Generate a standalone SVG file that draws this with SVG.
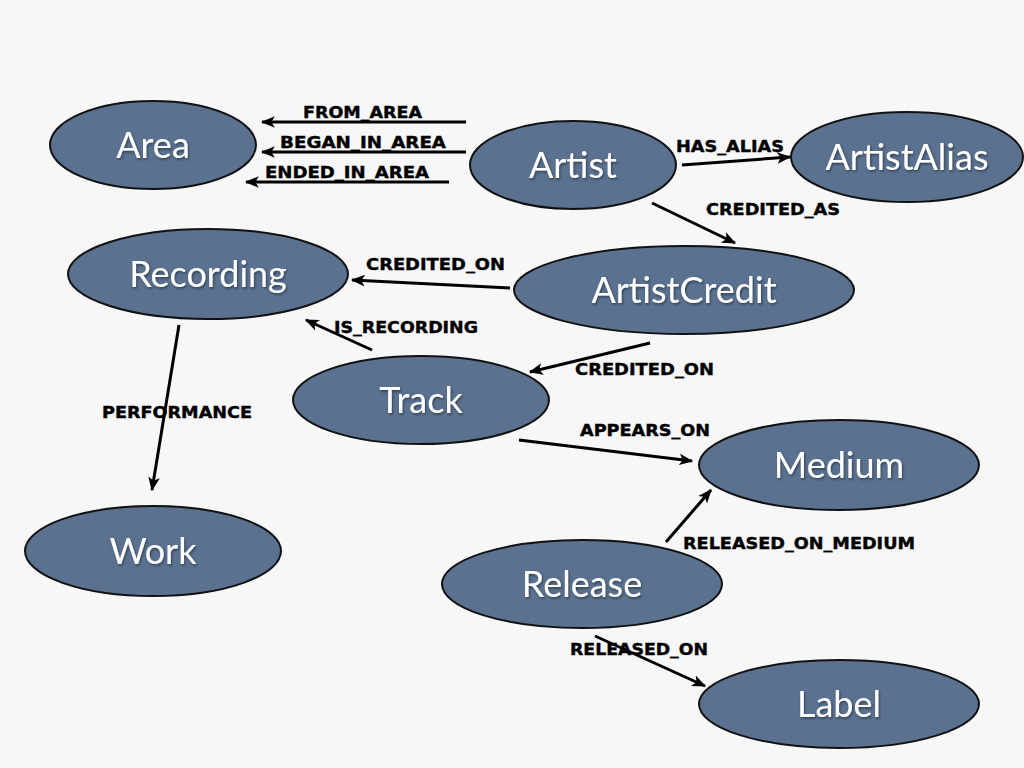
<svg xmlns="http://www.w3.org/2000/svg" width="1024" height="768" viewBox="0 0 1024 768">
<style>
.node ellipse{fill:#5a7190;stroke:#111;stroke-width:2}
.node text{font-family:Lato,"Open Sans",sans-serif;font-size:36px;fill:#fff;text-anchor:middle;filter:url(#sh)}
.edges line{stroke:#000;stroke-width:3;marker-end:url(#ah)}
.lbl{font-family:"DejaVu Sans","Liberation Sans",sans-serif;font-weight:bold;font-size:16px;fill:#000;stroke:#000;stroke-width:0.4}
</style>
<defs>
<marker id="ah" viewBox="0 0 12 10" refX="11" refY="5" markerWidth="14" markerHeight="12" markerUnits="userSpaceOnUse" orient="auto">
<path d="M0,0 L12,5 L0,10 L3,5 z" fill="#000"/>
</marker>
<filter id="sh" x="-10%" y="-10%" width="120%" height="130%">
<feDropShadow dx="1" dy="1.5" stdDeviation="1" flood-color="#1a2535" flood-opacity="0.7"/>
</filter>
</defs>
<rect width="1024" height="768" fill="#f7f7f7"/>
<g class="edges">
<line x1="466" y1="122" x2="262" y2="122"/>
<line x1="466" y1="152" x2="262" y2="152"/>
<line x1="449" y1="182" x2="246" y2="182"/>
<line x1="682" y1="165" x2="790" y2="157"/>
<line x1="652" y1="203" x2="735" y2="243"/>
<line x1="510" y1="288" x2="352" y2="280"/>
<line x1="372" y1="350" x2="306" y2="320"/>
<line x1="650" y1="343" x2="530" y2="372"/>
<line x1="179" y1="325" x2="152" y2="490"/>
<line x1="519" y1="440" x2="692" y2="461"/>
<line x1="666" y1="542" x2="711" y2="490"/>
<line x1="595" y1="636" x2="705" y2="686"/>
<text class="lbl" x="303" y="118" textLength="119" lengthAdjust="spacingAndGlyphs">FROM_AREA</text>
<text class="lbl" x="280" y="148" textLength="166" lengthAdjust="spacingAndGlyphs">BEGAN_IN_AREA</text>
<text class="lbl" x="265" y="178" textLength="164" lengthAdjust="spacingAndGlyphs">ENDED_IN_AREA</text>
<text class="lbl" x="676" y="152" textLength="108" lengthAdjust="spacingAndGlyphs">HAS_ALIAS</text>
<text class="lbl" x="706" y="215" textLength="134" lengthAdjust="spacingAndGlyphs">CREDITED_AS</text>
<text class="lbl" x="366" y="270" textLength="139" lengthAdjust="spacingAndGlyphs">CREDITED_ON</text>
<text class="lbl" x="334" y="333" textLength="144" lengthAdjust="spacingAndGlyphs">IS_RECORDING</text>
<text class="lbl" x="575" y="375" textLength="139" lengthAdjust="spacingAndGlyphs">CREDITED_ON</text>
<text class="lbl" x="102" y="418" textLength="150" lengthAdjust="spacingAndGlyphs">PERFORMANCE</text>
<text class="lbl" x="580" y="436" textLength="130" lengthAdjust="spacingAndGlyphs">APPEARS_ON</text>
<text class="lbl" x="683" y="549" textLength="232" lengthAdjust="spacingAndGlyphs">RELEASED_ON_MEDIUM</text>
<text class="lbl" x="570" y="655" textLength="138" lengthAdjust="spacingAndGlyphs">RELEASED_ON</text>
</g>
<g id="area" class="node"><ellipse cx="153" cy="145" rx="103" ry="44"/><text x="153" y="158">Area</text></g>
<g id="artist" class="node"><ellipse cx="573" cy="165" rx="103" ry="44"/><text x="573" y="178">Artist</text></g>
<g id="artistalias" class="node"><ellipse cx="907" cy="157" rx="116" ry="45"/><text x="907" y="170">ArtistAlias</text></g>
<g id="recording" class="node"><ellipse cx="208" cy="274" rx="140" ry="45"/><text x="208" y="287">Recording</text></g>
<g id="artistcredit" class="node"><ellipse cx="684" cy="290" rx="170" ry="44"/><text x="684" y="303">ArtistCredit</text></g>
<g id="track" class="node"><ellipse cx="421" cy="400" rx="128" ry="44"/><text x="421" y="413">Track</text></g>
<g id="medium" class="node"><ellipse cx="839" cy="465" rx="140" ry="45"/><text x="839" y="478">Medium</text></g>
<g id="work" class="node"><ellipse cx="153" cy="551" rx="128" ry="45"/><text x="153" y="564">Work</text></g>
<g id="release" class="node"><ellipse cx="582" cy="584" rx="140" ry="44"/><text x="582" y="597">Release</text></g>
<g id="label" class="node"><ellipse cx="839" cy="704" rx="140" ry="44"/><text x="839" y="717">Label</text></g>
</svg>
